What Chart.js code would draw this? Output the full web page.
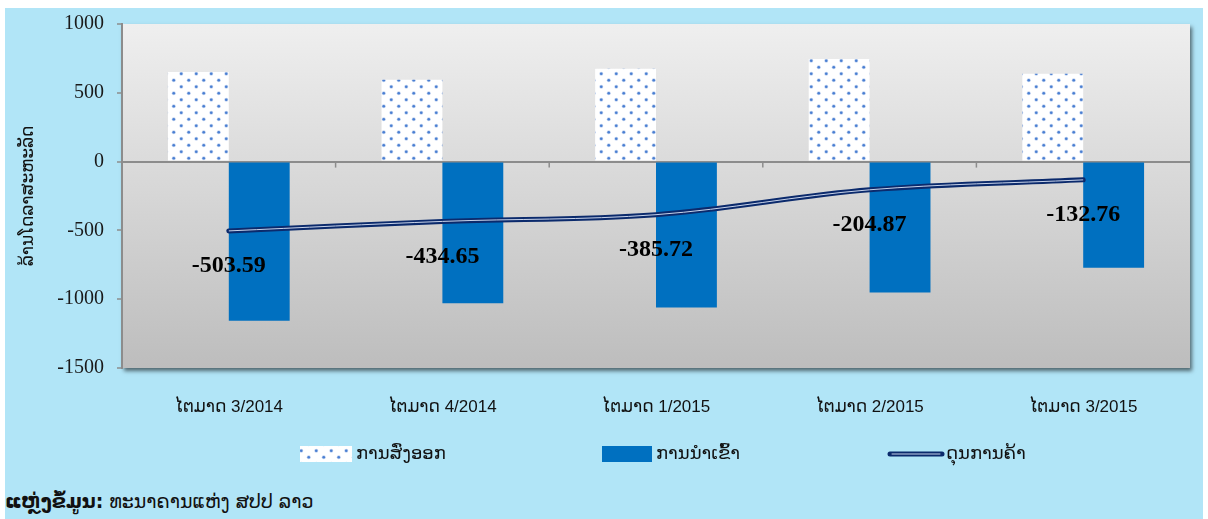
<!DOCTYPE html>
<html>
<head>
<meta charset="utf-8">
<script src="https://cdn.jsdelivr.net/npm/chart.js@4.4.1/dist/chart.umd.min.js"></script>
<style>
  html, body { margin:0; padding:0; background:#fff; }
  #wrap { position:absolute; left:5px; top:8px; width:1198px; height:511px; background:#b1e5f7; overflow:hidden; }
  #chart { position:absolute; left:0; top:-9px; }
  #source { position:absolute; left:0; top:482px; font-family:"DejaVu Sans","Noto Sans",sans-serif; font-size:19px; color:#111; white-space:nowrap; }
  #source b { font-weight:bold; }
</style>
</head>
<body>
<div id="wrap">
  <canvas id="chart" width="1198" height="479"></canvas>
  <div id="source"><b>ແຫຼ່ງຂໍ້ມູນ:</b> ທະນາຄານແຫ່ງ ສປປ ລາວ</div>
</div>
<script>
// data
const categories = ['ໄຕມາດ 3/2014', 'ໄຕມາດ 4/2014', 'ໄຕມາດ 1/2015', 'ໄຕມາດ 2/2015', 'ໄຕມາດ 3/2015']
const exportsVals = [652, 594, 674, 746, 638]
const importsVals = [-1156, -1029, -1060, -951, -771]
const balanceVals = [-503.59, -434.65, -385.72, -204.87, -132.76]
const seriesNames = ['ການສົ່ງອອກ', 'ການນຳເຂົ້າ', 'ດຸນການຄ້າ']
const yTitle = 'ລ້ານໂດລາສະຫະລັດ'
const yMin = -1500, yMax = 1000, yStep = 500

const NAVY = '#0b2a6c'
const BLUE = '#0070c0'
const AXIS = '#8c8c8c'
const LAO = '"Liberation Sans","DejaVu Sans",sans-serif'

// dotted fill used by the export bars
function dotPattern(){
  const c = document.createElement('canvas')
  c.width = 15; c.height = 13
  const g = c.getContext('2d')
  g.fillStyle = '#fff'
  g.fillRect(0,0,15,13)
  const dots = [[3.75,3.25],[11.25,9.75]]
  dots.forEach(([x,y])=>{
    g.fillStyle = '#c3d4f0'
    g.beginPath(); g.arc(x,y,2,0,Math.PI*2); g.fill()
    g.fillStyle = '#4a7fd2'
    g.beginPath(); g.arc(x,y,1.3,0,Math.PI*2); g.fill()
  })
  return document.createElement('canvas').getContext('2d').createPattern(c,'repeat')
}
const dots = dotPattern()

// grey gradient plot area with a soft shadow
const plotBg = {
  id:'plotBg',
  beforeDraw(chart){
    const {ctx, chartArea:a} = chart
    ctx.save()
    const grad = ctx.createLinearGradient(0,a.top,0,a.bottom)
    grad.addColorStop(0,'#efefef')
    grad.addColorStop(1,'#bdbdbd')
    ctx.shadowColor = 'rgba(0,0,0,0.55)'
    ctx.shadowBlur = 4
    ctx.shadowOffsetX = 2
    ctx.shadowOffsetY = 3
    ctx.fillStyle = grad
    ctx.fillRect(a.left,a.top,a.width,a.height)
    ctx.restore()
  }
}

// little ticks on the zero line between categories + value labels + legend
const extras = {
  id:'extras',
  afterDatasetsDraw(chart){
    const {ctx} = chart
    const x = chart.scales.x, y = chart.scales.y
    const y0 = y.getPixelForValue(0)
    ctx.save()
    ctx.strokeStyle = AXIS
    ctx.lineWidth = 1.5
    for(let i=1;i<categories.length;i++){
      const bx = (x.getPixelForValue(i-1)+x.getPixelForValue(i))/2
      ctx.beginPath(); ctx.moveTo(bx,y0); ctx.lineTo(bx,y0+6); ctx.stroke()
    }
    const meta = chart.getDatasetMeta(2)
    ctx.fillStyle = '#000'
    ctx.font = 'bold 24px "Liberation Serif","Times New Roman",serif'
    ctx.textAlign = 'center'
    ctx.textBaseline = 'middle'
    meta.data.forEach((pt,i)=>{
      ctx.fillText(balanceVals[i].toFixed(2), pt.x, pt.y+35)
    })
    ctx.restore()
  },
  afterDraw(chart){
    const {ctx} = chart
    const cy = 455
    ctx.save()
    ctx.font = '18px '+LAO
    ctx.textBaseline = 'middle'
    ctx.fillStyle = dots
    ctx.fillRect(295,cy-8,52,16)
    ctx.fillStyle = '#111'
    ctx.fillText(seriesNames[0],351,cy)
    ctx.fillStyle = BLUE
    ctx.fillRect(597,cy-8,50,16)
    ctx.fillStyle = '#111'
    ctx.fillText(seriesNames[1],651,cy)
    ctx.lineCap = 'round'
    ctx.strokeStyle = NAVY
    ctx.lineWidth = 5
    ctx.beginPath(); ctx.moveTo(885,cy); ctx.lineTo(937,cy); ctx.stroke()
    ctx.strokeStyle = '#c8d3ea'
    ctx.lineWidth = 1
    ctx.beginPath(); ctx.moveTo(887,cy); ctx.lineTo(935,cy); ctx.stroke()
    ctx.fillStyle = '#111'
    ctx.fillText(seriesNames[2],941,cy)
    ctx.restore()
  }
}

new Chart(document.getElementById('chart'), {
  type:'bar',
  data:{
    labels:categories,
    datasets:[
      {label:seriesNames[0], data:exportsVals, backgroundColor:dots, categoryPercentage:0.57, barPercentage:1.0},
      {label:seriesNames[1], data:importsVals, backgroundColor:BLUE, categoryPercentage:0.57, barPercentage:1.0},
      {label:seriesNames[2], type:'line', data:balanceVals, borderColor:NAVY, borderWidth:5, pointRadius:0, tension:0.35, fill:false, order:-1, borderCapStyle:'round'},
      {label:'', type:'line', data:balanceVals, borderColor:'#c8d3ea', borderWidth:1, pointRadius:0, tension:0.35, fill:false, order:-2}
    ]
  },
  options:{
    responsive:false,
    animation:false,
    layout:{padding:{top:6, right:13, bottom:55, left:0}},
    plugins:{legend:{display:false}, tooltip:{enabled:false}},
    scales:{
      x:{
        grid:{display:false},
        border:{display:false},
        ticks:{color:'#111', font:{family:LAO, size:17}, padding:21},
        afterFit(s){ s.height = 55 }
      },
      y:{
        min:yMin, max:yMax,
        ticks:{stepSize:yStep, color:'#1a1a1a', font:{family:'"Liberation Serif","Times New Roman",serif', size:20}, padding:13, callback:v=>String(v)},
        grid:{color:c=>c.tick && c.tick.value===0 ? AXIS : 'rgba(0,0,0,0)', lineWidth:2, tickColor:AXIS, tickLength:5, tickWidth:1.5},
        border:{display:true, color:AXIS, width:2},
        title:{display:true, text:yTitle, color:'#111', font:{family:LAO, size:17}, padding:{top:13, bottom:0}},
        afterFit(s){ s.width = 117 }
      }
    }
  },
  plugins:[plotBg, extras]
})
</script>
</body>
</html>
